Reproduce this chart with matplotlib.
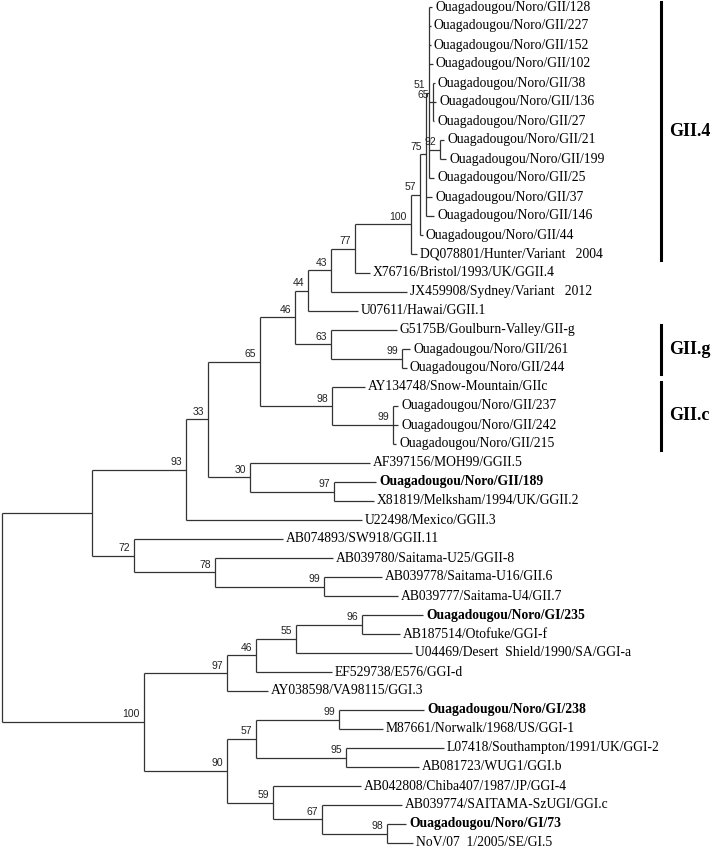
#Phylogenetic tree of norovirus strains (GI and GII) with bootstrap values
import matplotlib.pyplot as plt
from matplotlib.collections import LineCollection

#Leaves, top to bottom
leaves = ["Ouagadougou/Noro/GII/128", "Ouagadougou/Noro/GII/227", "Ouagadougou/Noro/GII/152",
          "Ouagadougou/Noro/GII/102", "Ouagadougou/Noro/GII/38", "Ouagadougou/Noro/GII/136",
          "Ouagadougou/Noro/GII/27", "Ouagadougou/Noro/GII/21", "Ouagadougou/Noro/GII/199",
          "Ouagadougou/Noro/GII/25", "Ouagadougou/Noro/GII/37", "Ouagadougou/Noro/GII/146",
          "Ouagadougou/Noro/GII/44", "DQ078801/Hunter/Variant   2004", "X76716/Bristol/1993/UK/GGII.4",
          "JX459908/Sydney/Variant   2012", "U07611/Hawai/GGII.1", "G5175B/Goulburn-Valley/GII-g",
          "Ouagadougou/Noro/GII/261", "Ouagadougou/Noro/GII/244", "AY134748/Snow-Mountain/GIIc",
          "Ouagadougou/Noro/GII/237", "Ouagadougou/Noro/GII/242", "Ouagadougou/Noro/GII/215",
          "AF397156/MOH99/GGII.5", "Ouagadougou/Noro/GII/189", "X81819/Melksham/1994/UK/GGII.2",
          "U22498/Mexico/GGII.3", "AB074893/SW918/GGII.11", "AB039780/Saitama-U25/GGII-8",
          "AB039778/Saitama-U16/GII.6", "AB039777/Saitama-U4/GII.7", "Ouagadougou/Noro/GI/235",
          "AB187514/Otofuke/GGI-f", "U04469/Desert  Shield/1990/SA/GGI-a", "EF529738/E576/GGI-d",
          "AY038598/VA98115/GGI.3", "Ouagadougou/Noro/GI/238", "M87661/Norwalk/1968/US/GGI-1",
          "L07418/Southampton/1991/UK/GGI-2", "AB081723/WUG1/GGI.b", "AB042808/Chiba407/1987/JP/GGI-4",
          "AB039774/SAITAMA-SzUGI/GGI.c", "Ouagadougou/Noro/GI/73", "NoV/07  1/2005/SE/GI.5"]
#Distance of each leaf from the root (tree units)
leaf_dist = [430, 429, 429, 431, 433, 434, 432, 442, 444, 432, 430, 432, 421, 415, 368, 405, 356,
             395, 408, 405, 363, 396, 396, 394, 368, 374, 372, 360, 281, 331, 380, 396, 421, 398,
             410, 330, 266, 422, 381, 442, 417, 359, 400, 404, 411]
bold_leaves = ["Ouagadougou/Noro/GII/189", "Ouagadougou/Noro/GI/235",
               "Ouagadougou/Noro/GI/238", "Ouagadougou/Noro/GI/73"]

#Internal nodes: children (leaf index or node name), distance from root, bootstrap
node_names = ["root", "a", "n93", "n33", "n65", "n46", "n44", "n43", "n77", "n100", "n57", "n75",
              "n51", "n65b", "n92", "n63", "n99g", "n98c", "n99c", "n30", "n97", "n72", "n78",
              "n99s", "gi", "n97g", "n46g", "n55", "n96", "n90", "n57g", "n99n", "n95", "n59",
              "n67", "n98g"]
node_children = [["a", "gi"], ["n93", "n72"], ["n33", 27], ["n65", "n30"], ["n46", "n98c"],
                 ["n44", "n63"], ["n43", 16], ["n77", 15], ["n100", 14], ["n57", 13], ["n75", 12],
                 ["n51", 10, 11], [0, 1, 2, 3, "n65b", "n92", 9], [4, 5, 6], [7, 8], [17, "n99g"],
                 [18, 19], [20, "n99c"], [21, 22, 23], [24, "n97"], [25, 26], [28, "n78"],
                 [29, "n99s"], [30, 31], ["n97g", "n90"], ["n46g", 36], ["n55", 35], ["n96", 34],
                 [32, 33], ["n57g", "n59"], ["n99n", "n95"], [37, 38], [39, 40], [41, "n67"],
                 [42, "n98g"], [43, 44]]
node_dist = [0, 90, 184, 206, 258, 293, 306, 329, 353, 409, 418, 424, 427, 431, 438, 329, 400,
             330, 391, 248, 332, 132, 213, 322, 142, 225, 254, 294, 360, 225, 254, 337, 344, 271,
             320, 385]
node_support = [None, None, 93, 33, 65, 46, 44, 43, 77, 100, 57, 75, 51, 65, 92, 63, 99, 98, 99,
                30, 97, 72, 78, 99, 100, 97, 46, 55, 96, 90, 57, 99, 95, 59, 67, 98]

#Clades marked with a bar on the right
clade_names = ["GII.4", "GII.g", "GII.c"]
clade_first = [0, 17, 20]
clade_last = [13, 19, 23]

x0 = 2#root position
row = 19.0#spacing between leaves
y0 = 7

def leaf_y(i):
    return y0 + i * row

node_index = {n: k for k, n in enumerate(node_names)}
pos = {}

def place(n):
    #Return (x, y) of a leaf index or a node name
    if isinstance(n, int):
        return x0 + leaf_dist[n], leaf_y(n)
    if n in pos:
        return pos[n]
    k = node_index[n]
    ys = [place(c)[1] for c in node_children[k]]
    pos[n] = (x0 + node_dist[k], (ys[0] + ys[-1]) / 2)
    return pos[n]

fig = plt.figure(figsize=(7.12, 8.48), dpi=100)
ax = fig.add_axes([0, 0, 1, 1])
ax.set_xlim(0, 712)
ax.set_ylim(848, 0)
ax.axis("off")

segs = []
for k, n in enumerate(node_names):
    x, y = place(n)
    cys = [place(c)[1] for c in node_children[k]]
    segs.append([(x, cys[0]), (x, cys[-1])])
    for c in node_children[k]:
        cx, cy = place(c)
        segs.append([(x, cy), (cx, cy)])
    if node_support[k] is not None:
        ax.text(x - 4, y - 2.5, str(node_support[k]), ha="right", va="bottom",
                fontsize=7.5, family="Liberation Sans", color="#222222")

ax.add_collection(LineCollection(segs, colors="#333333", linewidths=0.9))

for i, name in enumerate(leaves):
    x, y = place(i)
    ax.text(x + 3, y, name, ha="left", va="center", fontsize=9.8, family="Liberation Serif",
            fontweight="bold" if name in bold_leaves else "normal")

for name, a, b in zip(clade_names, clade_first, clade_last):
    ya = leaf_y(a) - 5
    yb = leaf_y(b) + 6
    ax.plot([661, 661], [ya, yb], color="black", linewidth=2.2)
    ax.text(669, (ya + yb) / 2, name, ha="left", va="center", fontsize=13,
            family="Liberation Serif", fontweight="bold")

plt.savefig("out.png", dpi=100)
